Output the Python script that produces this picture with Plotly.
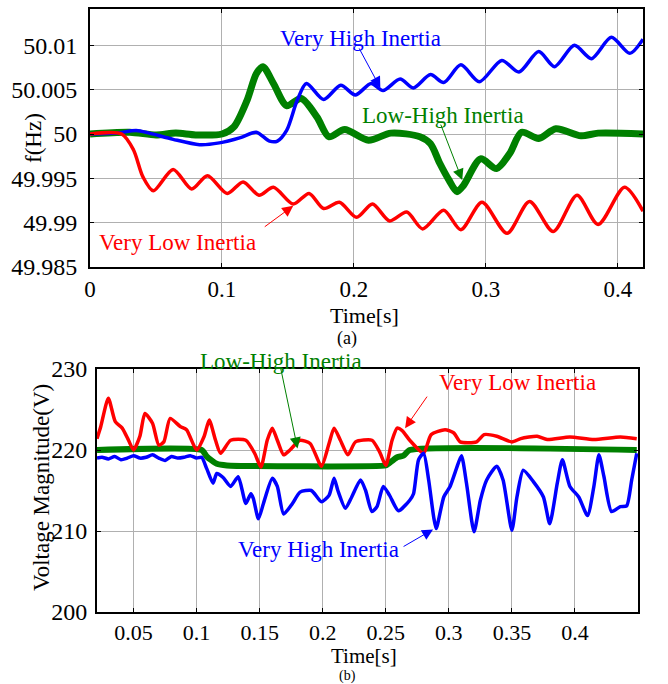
import plotly.graph_objects as go

# ---------------- Panel (a): frequency ----------------
t_vli_a = [0, 0.024, 0.033, 0.040, 0.048, 0.063, 0.077, 0.089, 0.104, 0.116, 0.128, 0.139, 0.154,
           0.166, 0.177, 0.189, 0.202, 0.214, 0.227, 0.240, 0.252, 0.268, 0.281, 0.297, 0.316,
           0.333, 0.351, 0.369, 0.385, 0.405, 0.419]
f_vli_a = [50, 50, 49.9982, 49.9952, 49.9936, 49.9960, 49.9938, 49.9953, 49.9933, 49.9946, 49.9931,
           49.9940, 49.9921, 49.9933, 49.9916, 49.9923, 49.9906, 49.9921, 49.9902, 49.9912, 49.9893,
           49.9914, 49.9892, 49.9923, 49.9888, 49.9924, 49.9890, 49.9931, 49.9898, 49.9940, 49.9913]

t_vhi_a = [0, 0.020, 0.035, 0.045, 0.063, 0.083, 0.098, 0.114, 0.126, 0.136, 0.142, 0.149, 0.157,
           0.164, 0.177, 0.190, 0.201, 0.213, 0.222, 0.235, 0.245, 0.258, 0.268, 0.281, 0.295,
           0.312, 0.325, 0.340, 0.352, 0.367, 0.380, 0.395, 0.409, 0.419]
f_vhi_a = [50, 50.0001, 50.0004, 50.0001, 49.9994, 49.9988, 49.9990, 49.9996, 50.0002, 49.9992,
           49.9992, 50.0004, 50.0038, 50.0057, 50.0039, 50.0055, 50.0044, 50.0057, 50.0049, 50.0062,
           50.0052, 50.0067, 50.0058, 50.0078, 50.0059, 50.0083, 50.0070, 50.0093, 50.0076, 50.0100,
           50.0085, 50.0109, 50.0091, 50.0107]

t_lhi_a = [0, 0.030, 0.050, 0.065, 0.080, 0.100, 0.109, 0.119, 0.126, 0.131, 0.139, 0.149, 0.160,
           0.172, 0.181, 0.193, 0.211, 0.228, 0.250, 0.258, 0.265, 0.272, 0.278, 0.283, 0.296,
           0.308, 0.318, 0.327, 0.340, 0.353, 0.372, 0.385, 0.419]
f_lhi_a = [50, 50.0002, 49.9999, 50.0001, 49.9999, 50, 50.0008, 50.0038, 50.0068, 50.0076, 50.0057,
           50.0032, 50.0040, 50.0019, 49.9997, 50.0005, 49.9993, 50.0001, 49.9997, 49.9989, 49.9967,
           49.9948, 49.9935, 49.9942, 49.9972, 49.9961, 49.9978, 50.0002, 49.9995, 50.0006, 49.9998,
           50.0001, 50.0000]

# ---------------- Panel (b): voltage magnitude ----------------
t_vli_b = [0.021, 0.024, 0.030, 0.0355, 0.041, 0.046, 0.050, 0.055, 0.059, 0.065, 0.070, 0.074,
           0.079, 0.087, 0.092, 0.100, 0.106, 0.110, 0.115, 0.119, 0.127, 0.139, 0.146, 0.151,
           0.156, 0.160, 0.164, 0.169, 0.174, 0.182, 0.190, 0.199, 0.205, 0.209, 0.214, 0.220,
           0.226, 0.239, 0.245, 0.250, 0.255, 0.259, 0.263, 0.269, 0.280, 0.286, 0.297, 0.304,
           0.309, 0.322, 0.328, 0.338, 0.350, 0.357, 0.370, 0.378, 0.396, 0.415, 0.436, 0.449]
v_vli_b = [221.4, 222.9, 226.4, 223.5, 222.7, 221.2, 220.0, 221.7, 224.5, 223.3, 220.6, 221.0,
           223.9, 222.9, 222.5, 220.0, 221.7, 223.7, 221.2, 219.6, 221.2, 221.2, 219.6, 217.9,
           221.2, 222.7, 221.2, 219.4, 220.0, 221.2, 220.8, 218.0, 220.8, 222.7, 221.2, 219.4,
           221.0, 221.2, 219.8, 218.1, 221.2, 222.7, 222.4, 221.2, 219.6, 221.9, 222.5, 222.1,
           221.0, 221.0, 221.9, 221.7, 221.0, 221.4, 221.7, 221.3, 221.6, 221.3, 221.6, 221.4]

t_vhi_b = [0.021, 0.025, 0.030, 0.035, 0.040, 0.045, 0.050, 0.055, 0.060, 0.065, 0.070, 0.075,
           0.080, 0.085, 0.090, 0.095, 0.100, 0.104, 0.108, 0.113, 0.116, 0.121, 0.127, 0.133,
           0.139, 0.143, 0.145, 0.149, 0.153, 0.160, 0.164, 0.169, 0.176, 0.182, 0.191, 0.199,
           0.205, 0.209, 0.212, 0.218, 0.223, 0.230, 0.234, 0.239, 0.243, 0.248, 0.253, 0.260,
           0.269, 0.272, 0.276, 0.280, 0.284, 0.288, 0.290, 0.296, 0.301, 0.306, 0.310, 0.314,
           0.320, 0.325, 0.330, 0.338, 0.343, 0.350, 0.354, 0.359, 0.367, 0.375, 0.380, 0.386,
           0.390, 0.396, 0.403, 0.410, 0.415, 0.419, 0.423, 0.429, 0.436, 0.441, 0.445, 0.449]
v_vhi_b = [219.0, 219.1, 218.9, 219.2, 218.8, 219.0, 219.3, 219.0, 219.1, 219.4, 219.0, 218.7,
           219.2, 219.0, 219.1, 219.3, 219.0, 219.1, 217.7, 215.9, 217.1, 216.6, 215.5, 216.7,
           213.4, 214.6, 214.0, 211.5, 213.4, 216.5, 215.5, 212.1, 213.4, 214.8, 215.0, 213.6,
           214.4, 216.5, 215.0, 212.8, 214.2, 216.3, 215.0, 212.4, 213.0, 215.5, 214.4, 212.5,
           213.8, 214.6, 218.8, 219.6, 216.3, 211.7, 210.3, 214.2, 215.5, 217.7, 219.3, 215.9,
           209.9, 213.8, 216.3, 218.0, 216.3, 210.1, 214.2, 217.5, 216.1, 214.2, 210.9, 215.9,
           218.8, 215.5, 214.2, 211.9, 215.5, 219.4, 216.7, 212.4, 213.0, 213.1, 216.3, 219.6]

t_lhi_b = [0.021, 0.104, 0.108, 0.116, 0.124, 0.250, 0.252, 0.259, 0.264, 0.269, 0.449]
v_lhi_b = [220.0, 220.0, 219.2, 218.3, 218.1, 218.1, 218.3, 219.1, 219.3, 220.0, 220.0]

# tick labels
xt_a = [0, 0.1, 0.2, 0.3, 0.4]
xt_a_txt = ["0", "0.1", "0.2", "0.3", "0.4"]
yt_a = [49.985, 49.99, 49.995, 50, 50.005, 50.01]
yt_a_txt = ["49.985", "49.99", "49.995", "50", "50.005", "50.01"]
xt_b = [0.05, 0.1, 0.15, 0.2, 0.25, 0.3, 0.35, 0.4]
xt_b_txt = ["0.05", "0.1", "0.15", "0.2", "0.25", "0.3", "0.35", "0.4"]
yt_b = [200, 210, 220, 230]
yt_b_txt = ["200", "210", "220", "230"]

W, H = 668, 684
RED, BLUE, GREEN = "#ff0000", "#0000ff", "#008000"
FONT = "Liberation Serif, Times New Roman, serif"

fig = go.Figure()
# panel (a)
fig.add_trace(go.Scatter(x=t_lhi_a, y=f_lhi_a, mode="lines", name="Low-High Inertia",
                         line=dict(color=GREEN, width=7, shape="spline", smoothing=0.8),
                         xaxis="x", yaxis="y"))
fig.add_trace(go.Scatter(x=t_vhi_a, y=f_vhi_a, mode="lines", name="Very High Inertia",
                         line=dict(color=BLUE, width=3.5, shape="spline", smoothing=0.8),
                         xaxis="x", yaxis="y"))
fig.add_trace(go.Scatter(x=t_vli_a, y=f_vli_a, mode="lines", name="Very Low Inertia",
                         line=dict(color=RED, width=3.5, shape="spline", smoothing=0.8),
                         xaxis="x", yaxis="y"))
# panel (b)
fig.add_trace(go.Scatter(x=t_lhi_b, y=v_lhi_b, mode="lines", name="Low-High Inertia",
                         line=dict(color=GREEN, width=6, shape="spline", smoothing=0.5),
                         xaxis="x2", yaxis="y2"))
fig.add_trace(go.Scatter(x=t_vli_b, y=v_vli_b, mode="lines", name="Very Low Inertia",
                         line=dict(color=RED, width=3.5, shape="spline", smoothing=0.6),
                         xaxis="x2", yaxis="y2"))
fig.add_trace(go.Scatter(x=t_vhi_b, y=v_vhi_b, mode="lines", name="Very High Inertia",
                         line=dict(color=BLUE, width=3.5, shape="spline", smoothing=0.6),
                         xaxis="x2", yaxis="y2"))

axis_common = dict(showline=True, linecolor="black", linewidth=2, mirror="ticks",
                   ticks="inside", ticklen=4, tickcolor="black", tickwidth=1.2,
                   showgrid=True, gridcolor="#b0b0b0", gridwidth=1, zeroline=False,
                   automargin=False, layer="above traces",
                   tickfont=dict(family=FONT, size=24, color="black"), tickmode="array")

fig.update_layout(
    width=W, height=H, margin=dict(l=0, r=0, t=0, b=0, pad=0, autoexpand=False),
    paper_bgcolor="white", plot_bgcolor="white", showlegend=False,
    xaxis=dict(axis_common, domain=[90 / W, 643 / W], range=[0, 0.419], anchor="y",
               tickvals=xt_a, ticktext=xt_a_txt, ticklabelstandoff=0,
               tickfont=dict(family=FONT, size=23, color="black")),
    yaxis=dict(axis_common, domain=[1 - 267 / H, 1 - 9 / H], range=[49.985, 50.0141], anchor="x",
               tickvals=yt_a, ticktext=yt_a_txt, ticklabelstandoff=6),
    xaxis2=dict(axis_common, domain=[97 / W, 638 / W], range=[0.021, 0.45], anchor="y2",
                tickvals=xt_b, ticktext=xt_b_txt, ticklabelstandoff=0,
                tickfont=dict(family=FONT, size=22, color="black")),
    yaxis2=dict(axis_common, domain=[1 - 612 / H, 1 - 369 / H], range=[200, 230], anchor="x2",
                tickvals=yt_b, ticktext=yt_b_txt, ticklabelstandoff=3),
)

def ptext(txt, px, py, color="black", size=23, angle=0):
    fig.add_annotation(text=txt, x=px / W, y=1 - py / H, xref="paper", yref="paper",
                       xanchor="center", yanchor="middle", showarrow=False, textangle=angle,
                       font=dict(family=FONT, size=size, color=color))

def arrow(x, y, ax, ay, color, xr, yr):
    fig.add_annotation(text="", x=x, y=y, xref=xr, yref=yr, ax=ax, ay=ay,
                       showarrow=True, arrowhead=2, arrowsize=2.2, arrowwidth=1,
                       arrowcolor=color, standoff=0)

# axis titles and captions
ptext("f(Hz)", 34, 138, angle=-90)
ptext("Time[s]", 364, 315, size=22)
ptext("(a)", 347, 338, size=18)
ptext("Voltage Magnitude(V)", 41, 488, angle=-90)
ptext("Time[s]", 364, 656, size=21)
ptext("(b)", 347, 676, size=14)

# panel (a) labels
ptext("Very High Inertia", 360, 38, BLUE)
ptext("Low-High Inertia", 443, 116, GREEN)
ptext("Very Low Inertia", 177, 242, RED)
arrow(0.220, 50.0052, -22, -41, BLUE, "x", "y")
arrow(0.282, 49.9948, -22, -57, GREEN, "x", "y")
arrow(0.154, 49.9919, -30, 22, RED, "x", "y")

# panel (b) labels
ptext("Low-High Inertia", 281, 361, GREEN)
ptext("Very Low Inertia", 517, 382, RED)
ptext("Very High Inertia", 318, 549, BLUE)
arrow(0.180, 220.2, -17, -81, GREEN, "x2", "y2")
arrow(0.2653, 222.7, 23, -33, RED, "x2", "y2")
arrow(0.2875, 210.2, -31, 18, BLUE, "x2", "y2")

fig.write_html("out.html", config={"displayModeBar": False},
               post_script="document.body.style.margin='0';document.body.style.padding='0';")
